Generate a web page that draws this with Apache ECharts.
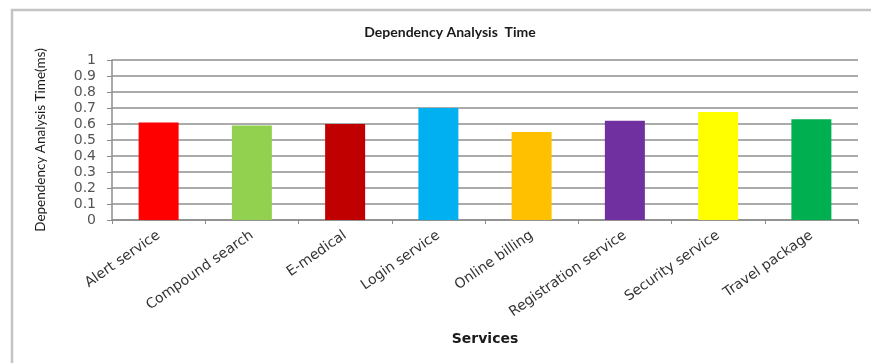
<!DOCTYPE html>
<html>
<head>
<meta charset="utf-8">
<script src="https://cdn.jsdelivr.net/npm/echarts@6/dist/echarts.min.js"></script>
<style>
  html, body { margin: 0; padding: 0; background: #fff; }
  #chart { width: 871px; height: 363px; }
</style>
</head>
<body>
<div id="chart"></div>
<script>
// Dependency analysis time per service (ms)
const services = [
  'Alert service', 'Compound search', 'E-medical', 'Login service',
  'Online billing', 'Registration service', 'Security service', 'Travel package'
];
const analysisTime = [0.61, 0.59, 0.60, 0.70, 0.55, 0.62, 0.675, 0.63];
const barColors = [
  '#FF0000', '#92D050', '#C00000', '#00B0F0',
  '#FFC000', '#7030A0', '#FFFF00', '#00B050'
];
const yTicks = { min: 0, max: 1, step: 0.1 };

const chart = echarts.init(document.getElementById('chart'));

chart.setOption({
  animation: false,
  backgroundColor: '#ffffff',
  title: {
    text: 'Dependency Analysis  Time',
    left: 445,
    top: 20,
    textAlign: 'center',
    textStyle: { fontFamily: 'Lato', fontSize: 14, fontWeight: 'bold', color: '#1a1a1a' }
  },
  graphic: [{
    type: 'polyline',
    shape: { points: [[12, 363], [12, 10], [871, 10]] },
    style: { stroke: '#c4c4c4', lineWidth: 2.5, fill: null },
    silent: true
  }],
  grid: { left: 112, right: 13, top: 60, bottom: 143 },
  xAxis: {
    type: 'category',
    data: services,
    name: 'Services',
    nameLocation: 'middle',
    nameGap: 112,
    nameTextStyle: { fontFamily: 'DejaVu Sans', fontSize: 14, fontWeight: 'bold', color: '#1a1a1a' },
    axisLine: { lineStyle: { color: '#8c8c8c', width: 1.5 } },
    axisTick: { show: true, length: 4, lineStyle: { color: '#8c8c8c' } },
    axisLabel: {
      rotate: 35,
      margin: 14,
      interval: 0,
      fontFamily: 'DejaVu Sans',
      fontSize: 14,
      color: '#333333'
    }
  },
  yAxis: {
    type: 'value',
    min: yTicks.min,
    max: yTicks.max,
    interval: yTicks.step,
    name: 'Dependency Analysis Time(ms)',
    nameLocation: 'middle',
    nameGap: 64,
    nameTextStyle: { fontFamily: 'Lato', fontSize: 13.5, color: '#1a1a1a', padding: [0, 0, 0, 0] },
    axisLine: { show: true, lineStyle: { color: '#8c8c8c', width: 1.5 } },
    axisTick: { show: true, length: 5, lineStyle: { color: '#8c8c8c' } },
    axisLabel: {
      margin: 16,
      fontFamily: 'DejaVu Sans',
      fontSize: 14,
      color: '#555555',
      formatter: v => String(Math.round(v * 10) / 10)
    },
    splitLine: { lineStyle: { color: '#8f8f8f', width: 1.5 } }
  },
  series: [{
    type: 'bar',
    barWidth: 40,
    data: analysisTime.map((v, i) => ({ value: v, itemStyle: { color: barColors[i] } }))
  }]
});
</script>
</body>
</html>
